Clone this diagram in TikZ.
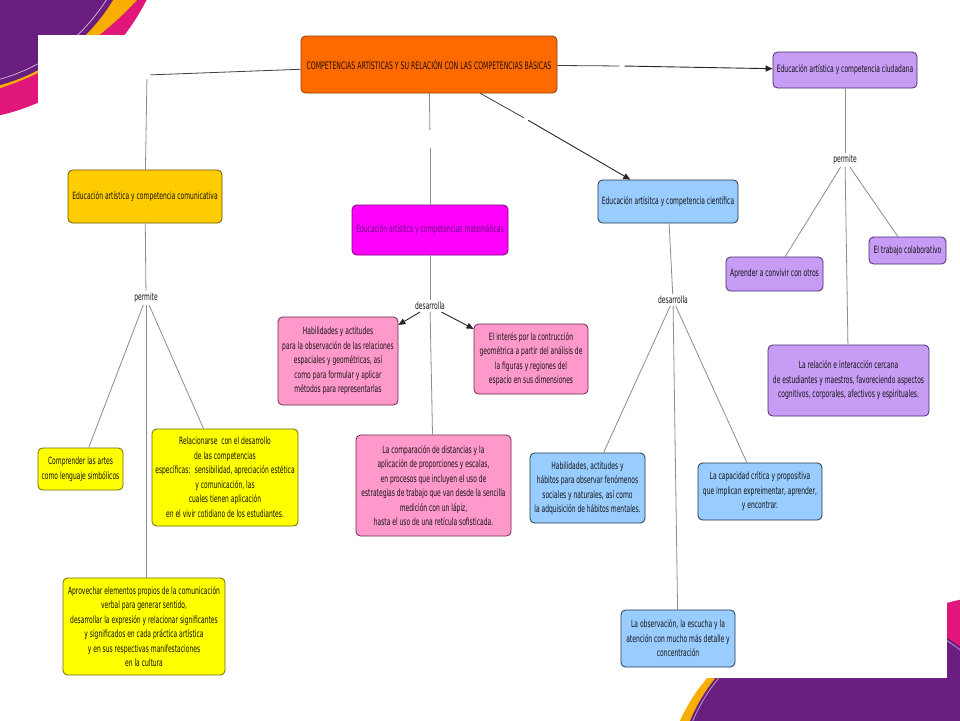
\documentclass[tikz,border=0pt]{standalone}
\usepackage{fontspec}
\setmainfont[FakeStretch=0.6]{DejaVu Sans}
\usetikzlibrary{arrows.meta}
\definecolor{bgpurple}{HTML}{6A1F80}
\definecolor{bgpink}{HTML}{E0167A}
\definecolor{bgorange}{HTML}{F7AE00}
\definecolor{cRoot}{HTML}{FF6A00}
\definecolor{cRootB}{HTML}{8A3A00}
\definecolor{cGold}{HTML}{FFCC00}
\definecolor{cGoldB}{HTML}{6E5400}
\definecolor{cYel}{HTML}{FFFF00}
\definecolor{cYelB}{HTML}{6A6A00}
\definecolor{cMag}{HTML}{FF00FF}
\definecolor{cMagB}{HTML}{7A007A}
\definecolor{cMagT}{HTML}{6A0A80}
\definecolor{cPink}{HTML}{FF99CC}
\definecolor{cPinkB}{HTML}{6E2A48}
\definecolor{cBlue}{HTML}{99CCFF}
\definecolor{cBlueB}{HTML}{22384F}
\definecolor{cLav}{HTML}{C69CF5}
\definecolor{cLavB}{HTML}{4A2A70}
\definecolor{cLine}{HTML}{8C8C8C}
\definecolor{cText}{HTML}{141414}
\tikzset{
  box/.style={rounded corners=4.5pt, draw, line width=0.8pt, align=center, inner sep=1pt,
    font=\fontsize{10}{14.5}\selectfont, text=cText},
  rootbox/.style={box, fill=cRoot, draw=cRootB, text=black!75!cRootB, font=\fontsize{10.3}{12}\selectfont},
  goldbox/.style={box, fill=cGold, draw=cGoldB, text=black!80!cGoldB},
  yelbox/.style={box, fill=cYel, draw=cYelB, text=black!85!cYelB},
  magbox/.style={box, fill=cMag, draw=cMagB, text=cMagT},
  pinkbox/.style={box, fill=cPink, draw=cPinkB},
  bluebox/.style={box, fill=cBlue, draw=cBlueB},
  lavbox/.style={box, fill=cLav, draw=cLavB},
  linkw/.style={inner sep=2pt, font=\fontsize{10}{12}\selectfont, text=cText},
  gapw/.style={inner sep=0pt, minimum width=#1, minimum height=#1},
  conn/.style={draw=cLine, line width=0.8pt},
  arr/.style={draw=black!85, line width=0.9pt, -{Triangle[length=7pt,width=6pt]}},
  plainarr/.style={draw=black!75, line width=0.8pt}
}
\begin{document}
\begin{tikzpicture}[x=1pt,y=-1pt]
\useasboundingbox (0,0) rectangle (960,720);
% background decoration
\begin{scope}
\clip (0,0) rectangle (960,720);
\fill[bgpink] (-50,-99) circle[radius=220pt];
\fill[bgorange] (-100,-218) circle[radius=322pt];
\fill[bgpurple] (-50,-99) circle[radius=190.7pt];
\draw[white, opacity=0.7, line width=0.7pt] (-50,-99) circle[radius=185pt];
\fill[bgpink] (1000,790) circle[radius=194.4pt];
\fill[bgorange] (844,795) circle[radius=180pt];
\fill[bgpurple] (854,789) circle[radius=177.5pt];
\draw[white, opacity=0.6, line width=0.7pt] (854,789) circle[radius=175pt];
\end{scope}
\fill[white] (38,35) rectangle (947,678);

% nodes
\node[rootbox, minimum width=256pt, minimum height=57pt] (root) at (429,64.5)
  {COMPETENCIAS ARTÍSTICAS Y SU RELACIÓN CON LAS COMPETENCIAS BÁSICAS};

\node[lavbox, minimum width=144pt, minimum height=36pt] (ciud) at (845,70)
  {Educación artística y competencia ciudadana};
\node[lavbox, minimum width=97pt, minimum height=34pt] (conv) at (774.5,274)
  {Aprender a convivir con otros};
\node[lavbox, minimum width=77pt, minimum height=27pt] (trab) at (907.5,250.5)
  {El trabajo colaborativo};
\node[lavbox, minimum width=161pt, minimum height=71pt] (rela) at (848.5,380.5)
  {La relación e interacción cercana\\de estudiantes y maestros, favoreciendo aspectos\\cognitivos, corporales, afectivos y espirituales.};

\node[bluebox, minimum width=140pt, minimum height=43pt] (cien) at (668,201.5)
  {Educación artísitca y competencia científica};
\node[bluebox, minimum width=115pt, minimum height=70pt] (habb) at (587.5,488)
  {Habilidades, actitudes y\\hábitos para observar fenómenos\\sociales y naturales, así como\\la adquisición de hábitos mentales.};
\node[bluebox, minimum width=124pt, minimum height=57pt] (capa) at (760,491.5)
  {La capacidad crítica y propositiva\\que implican expreimentar, aprender,\\y encontrar.};
\node[bluebox, minimum width=114pt, minimum height=57pt] (obse) at (678,638.5)
  {La observación, la escucha y la\\atención con mucho más detalle y\\concentración};

\node[magbox, minimum width=156pt, minimum height=50pt] (mate) at (430,230)
  {Educación artísitca y competencias matemáticas};
\node[pinkbox, minimum width=120pt, minimum height=88pt] (habp) at (338,361)
  {Habilidades y actitudes\\para la observación de las relaciones\\espaciales y geométricas, así\\como para formular y aplicar\\métodos para representarlas};
\node[pinkbox, minimum width=114pt, minimum height=70pt] (inte) at (531,359)
  {El interés por la contrucción\\geométrica a partir del análisis de\\la figuras y regiones del\\espacio en sus dimensiones};
\node[pinkbox, minimum width=155pt, minimum height=101pt] (comp) at (433.5,485.5)
  {La comparación de distancias y la\\aplicación de proporciones y escalas,\\en procesos que incluyen el uso de\\estrategias de trabajo que van desde la sencilla\\medición con un lápiz,\\hasta el uso de una retícula sofisticada.};

\node[goldbox, minimum width=154pt, minimum height=53pt] (comu) at (145,196.5)
  {Educación artística y competencia comunicativa};
\node[yelbox, minimum width=85pt, minimum height=42pt] (cart) at (80.5,469)
  {Comprender las artes\\como lenguaje simbólicos};
\node[yelbox, minimum width=146pt, minimum height=97pt] (rdes) at (225,477.5)
  {Relacionarse \ con el desarrollo\\de las competencias\\específicas: \ sensibilidad, apreciación estética\\y comunicación, las\\cuales tienen aplicación\\en el vivir cotidiano de los estudiantes.};
\node[yelbox, minimum width=162pt, minimum height=97pt] (apro) at (144,626.5)
  {Aprovechar elementos propios de la comunicación\\verbal para generar sentido,\\desarrollar la expresión y relacionar significantes\\y significados en cada práctica artística\\y en sus respectivas manifestaciones\\en la cultura};

% linking words
\node[linkw] (perA) at (146,298) {permite};
\node[linkw] (desM) at (430,306) {desarrolla};
\node[linkw] (desC) at (673,300) {desarrolla};
\node[linkw] (perB) at (845,160) {permite};

% empty linking phrases (gaps)
\node[gapw=7pt] (g1) at (147,75) {};
\node[gapw=18pt] (g2) at (430,139) {};
\node[gapw=4pt] (g3) at (526,119) {};
\node[gapw=5pt] (g4) at (622,66) {};

% connectors from root
\draw[plainarr] (root) -- (g1);
\draw[conn] (g1) -- (comu);
\draw[conn] (root) -- (g2);
\draw[conn] (g2) -- (mate);
\draw[plainarr] (root) -- (g3);
\draw[arr] (g3) -- (cien);
\draw[plainarr] (root) -- (g4);
\draw[arr] (g4) -- (ciud);

% comunicativa
\draw[conn] (comu) -- (perA);
\draw[conn] (perA) -- (cart);
\draw[conn] (perA) -- (rdes);
\draw[conn] (perA) -- (perA |- apro.north);

% matematicas
\draw[conn] (mate) -- (desM);
\draw[arr] (desM) -- (habp);
\draw[arr] (desM) -- (inte);
\draw[conn] (desM) -- (comp);

% cientifica
\draw[conn] (cien) -- (desC);
\draw[conn] (desC) -- (habb);
\draw[conn] (desC) -- (capa);
\draw[conn] (desC) -- (obse);

% ciudadana
\draw[conn] (ciud) -- (perB);
\draw[conn] (perB) -- (conv);
\draw[conn] (perB) -- (trab);
\draw[conn] (perB) -- (rela);
\end{tikzpicture}
\end{document}
